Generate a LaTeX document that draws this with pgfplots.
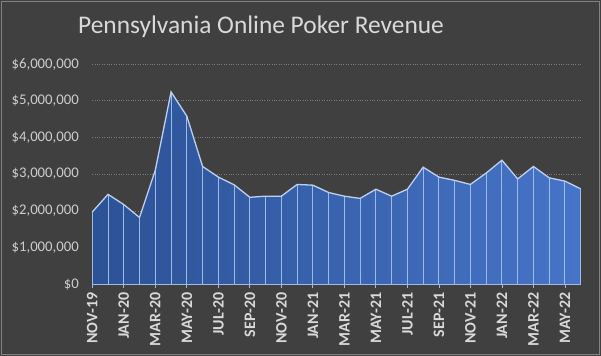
\documentclass[border=0pt]{standalone}
\usepackage{pgfplots}
\pgfplotsset{compat=1.18}
\usepackage{pgfplotstable}
\usepackage{fontspec}
\setmainfont{Carlito}
\definecolor{bg}{RGB}{64,64,64}
\definecolor{blueL}{RGB}{44,82,150}
\definecolor{blueR}{RGB}{70,116,200}
\definecolor{linec}{RGB}{190,208,238}
\definecolor{dropc}{RGB}{160,186,230}
\definecolor{labc}{RGB}{205,205,205}
\definecolor{xlabc}{RGB}{217,217,217}
\definecolor{gridc}{RGB}{125,125,125}
\definecolor{framec}{RGB}{130,130,130}
\pgfplotstableread{
x y
0 1970000
1 2450000
2 2170000
3 1820000
4 3110000
5 5240000
6 4580000
7 3210000
8 2920000
9 2710000
10 2370000
11 2400000
12 2400000
13 2720000
14 2700000
15 2500000
16 2400000
17 2340000
18 2590000
19 2400000
20 2590000
21 3190000
22 2920000
23 2830000
24 2720000
25 3030000
26 3380000
27 2870000
28 3210000
29 2900000
30 2810000
31 2600000
}\revdata
\begin{document}
\begin{tikzpicture}
\fill[bg] (-92.3bp,-71.7bp) rectangle (508.7bp,284.3bp);
\draw[framec, line width=0.8bp] (-90.8bp,-70.2bp) rectangle (507.2bp,282.8bp);
\begin{axis}[
  at={(0,0)}, anchor=south west,
  scale only axis, width=488.4bp, height=220.3bp,
  xmin=0, xmax=31, ymin=0, ymax=6000000,
  axis x line*=bottom, axis y line*=left,
  x axis line style={draw=none},
  y axis line style={draw=none},
  xtick={0,2,...,30},
  xticklabels={NOV-19,JAN-20,MAR-20,MAY-20,JUL-20,SEP-20,NOV-20,JAN-21,MAR-21,MAY-21,JUL-21,SEP-21,NOV-21,JAN-22,MAR-22,MAY-22},
  ytick={0,1000000,2000000,3000000,4000000,5000000,6000000},
  yticklabels={{\$0},{\$1,000,000},{\$2,000,000},{\$3,000,000},{\$4,000,000},{\$5,000,000},{\$6,000,000}},
  scaled y ticks=false,
  tick align=outside,
  major tick length=4bp,
  xtick style={draw=dropc, line width=0.8bp},
  ytick style={draw=none},
  xticklabel style={rotate=90, anchor=east, font=\bfseries\fontsize{16}{19}\selectfont, color=xlabc, xshift=-1bp},
  yticklabel style={font=\fontsize{14.8}{17}\selectfont, color=labc, xshift=-6bp},
  ymajorgrids,
  grid style={dotted, color=gridc, line width=0.7bp},
  clip=false,
]
\addplot[draw=none, left color=blueL, right color=blueR] table[x=x,y=y] {\revdata} \closedcycle;
\addplot[ycomb, draw=dropc, line width=0.9bp, mark=none] table[x=x,y=y] {\revdata};
\addplot[draw=linec, line width=1.3bp, mark=none] table[x=x,y=y] {\revdata};
\addplot[draw=dropc, line width=1bp, mark=none] coordinates {(0,0) (31,0)};
\end{axis}
\node[font=\fontsize{25.5}{30}\selectfont, color=xlabc] at (168.7bp,257.3bp) {Pennsylvania Online Poker Revenue};
\pgfresetboundingbox
\useasboundingbox (-92.3bp,-71.7bp) rectangle (508.7bp,284.3bp);
\end{tikzpicture}
\end{document}
